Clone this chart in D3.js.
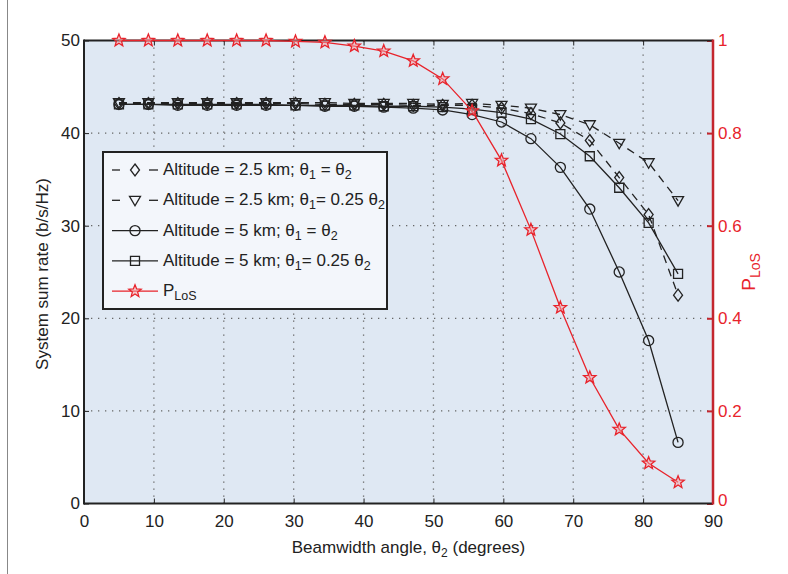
<!DOCTYPE html>
<html><head><meta charset="utf-8">
<script src="https://cdn.jsdelivr.net/npm/d3@7"></script>
<style>
html,body{margin:0;padding:0;background:#fff;}
svg text{font-family:"Liberation Sans",Arial,sans-serif;}
</style></head>
<body>
<svg id="chart" width="788" height="574"></svg>
<script>
// ---- data ----
const beamwidth = [5, 9.21, 13.42, 17.63, 21.84, 26.05, 30.26, 34.47, 38.68, 42.89, 47.11, 51.32, 55.53, 59.74, 63.95, 68.16, 72.37, 76.58, 80.79, 85];
const alt25Equal   = [43.2, 43.2, 43.2, 43.2, 43.2, 43.2, 43.2, 43.1, 43.1, 43.1, 43.0, 43.0, 43.0, 42.7, 42.1, 41.1, 39.2, 35.2, 31.2, 22.5];
const alt25Quarter = [43.3, 43.3, 43.3, 43.3, 43.3, 43.3, 43.3, 43.3, 43.2, 43.2, 43.2, 43.1, 43.2, 43.0, 42.7, 42.0, 40.9, 38.9, 36.8, 32.7];
const alt5Equal    = [43.1, 43.1, 43.0, 43.0, 43.0, 43.0, 43.0, 42.9, 42.9, 42.8, 42.7, 42.5, 42.0, 41.2, 39.4, 36.3, 31.8, 25.0, 17.6, 6.6];
const alt5Quarter  = [43.1, 43.1, 43.1, 43.1, 43.1, 43.1, 43.0, 43.0, 43.0, 42.9, 42.9, 42.8, 42.6, 42.2, 41.5, 39.9, 37.5, 34.1, 30.3, 24.8];
const pLoS         = [1.0, 1.0, 1.0, 1.0, 1.0, 1.0, 0.998, 0.996, 0.988, 0.977, 0.956, 0.917, 0.848, 0.741, 0.591, 0.423, 0.272, 0.160, 0.087, 0.046];
const xTicks = [0, 10, 20, 30, 40, 50, 60, 70, 80, 90];
const yLeftTicks = [0, 10, 20, 30, 40, 50];
const yRightTicks = [0, 0.2, 0.4, 0.6, 0.8, 1];
const rightTickLabels = ["0", "0.2", "0.4", "0.6", "0.8", "1"];

// ---- layout ----
const L = 84, R = 713, T = 40.5, B = 503.5;
const svg = d3.select("#chart");
const x = d3.scaleLinear().domain([0, 90]).range([L, R]);
const yL = d3.scaleLinear().domain([0, 50]).range([B, T]);
const yR = d3.scaleLinear().domain([0, 1]).range([B, T]);
const RED = "#e8232b", DARKRED = "#c4262e", INK = "#222";

// outer frame line on the left
svg.append("line").attr("x1", 7.5).attr("x2", 7.5).attr("y1", 0).attr("y2", 574)
  .attr("stroke", "#888").attr("stroke-width", 1);

// plot background
svg.append("rect").attr("x", L).attr("y", T).attr("width", R - L).attr("height", B - T)
  .attr("fill", "#dfe8f3");

// grid
const grid = svg.append("g").attr("stroke", "#666").attr("stroke-width", 1.3)
  .attr("stroke-dasharray", "1.3,5.7").attr("fill", "none");
xTicks.filter(d => d > 0 && d < 90).forEach(d => {
  grid.append("line").attr("x1", x(d)).attr("x2", x(d)).attr("y1", T).attr("y2", B);
});
yLeftTicks.filter(d => d > 0 && d < 50).forEach(d => {
  grid.append("line").attr("x1", L).attr("x2", R).attr("y1", yL(d)).attr("y2", yL(d));
});

// axes
const fontTick = "17px";
const axB = svg.append("g").attr("transform", `translate(0,${B})`)
  .call(d3.axisBottom(x).tickValues(xTicks).tickSizeInner(-5).tickSizeOuter(0).tickPadding(11).tickFormat(d3.format("d")));
axB.select(".domain").remove();
axB.selectAll("line").attr("stroke", INK);
axB.selectAll("text").attr("font-size", fontTick).attr("fill", "#222")
  .style("font-family", "'Liberation Sans',Arial,sans-serif");

const axTop = svg.append("g").attr("transform", `translate(0,${T})`)
  .call(d3.axisTop(x).tickValues(xTicks).tickSizeInner(-5).tickSizeOuter(0).tickFormat(""));
axTop.select(".domain").remove();
axTop.selectAll("line").attr("stroke", INK);

const axL = svg.append("g").attr("transform", `translate(${L},0)`)
  .call(d3.axisLeft(yL).tickValues(yLeftTicks).tickSizeInner(-5).tickSizeOuter(0).tickPadding(4).tickFormat(d3.format("d")));
axL.select(".domain").remove();
axL.selectAll("line").attr("stroke", INK);
axL.selectAll("text").attr("font-size", fontTick).attr("fill", "#222")
  .style("font-family", "'Liberation Sans',Arial,sans-serif");

const axR = svg.append("g").attr("transform", `translate(${R},0)`)
  .call(d3.axisRight(yR).tickValues(yRightTicks).tickSizeInner(-6).tickSizeOuter(0).tickPadding(5)
    .tickFormat((d, i) => rightTickLabels[i]));
axR.select(".domain").remove();
axR.selectAll("line").attr("stroke", DARKRED).attr("stroke-width", 2);
axR.selectAll("text").attr("font-size", fontTick).attr("fill", RED)
  .style("font-family", "'Liberation Sans',Arial,sans-serif");
// lift the bottom-right "0" slightly so it clears the "90" below it
axR.selectAll(".tick").filter(d => d === 0).select("text").attr("dy", "0.1em");

// frame
svg.append("line").attr("x1", L).attr("x2", R).attr("y1", T).attr("y2", T).attr("stroke", INK).attr("stroke-width", 2);
svg.append("line").attr("x1", L).attr("x2", R).attr("y1", B).attr("y2", B).attr("stroke", INK).attr("stroke-width", 2);
svg.append("line").attr("x1", L).attr("x2", L).attr("y1", T - 1).attr("y2", B + 1).attr("stroke", INK).attr("stroke-width", 2);
svg.append("line").attr("x1", R).attr("x2", R).attr("y1", T - 1).attr("y2", B + 1).attr("stroke", DARKRED).attr("stroke-width", 2.5);

// markers
const star = (r1, r2) => {
  let p = [];
  for (let i = 0; i < 10; i++) {
    const a = -Math.PI / 2 + i * Math.PI / 5;
    const r = i % 2 === 0 ? r1 : r2;
    p.push([r * Math.cos(a), r * Math.sin(a)]);
  }
  return "M" + p.map(q => q.join(",")).join("L") + "Z";
};
const markerPaths = {
  diamond: "M0,-6L4.5,0L0,6L-4.5,0Z",
  triangle: "M-5.5,-4L5.5,-4L0,5.5Z",
  circle: d3.symbol(d3.symbolCircle, 80)(),
  square: "M-4.5,-4.5L4.5,-4.5L4.5,4.5L-4.5,4.5Z",
  star: star(6.5, 2.8)
};

const seriesList = [
  {values: alt25Equal, y: yL, marker: "diamond", color: INK, dash: "8,6"},
  {values: alt25Quarter, y: yL, marker: "triangle", color: INK, dash: "8,6"},
  {values: alt5Equal, y: yL, marker: "circle", color: INK, dash: null},
  {values: alt5Quarter, y: yL, marker: "square", color: INK, dash: null},
  {values: pLoS, y: yR, marker: "star", color: RED, dash: null}
];

const plot = svg.append("g");
seriesList.forEach(s => {
  const line = d3.line().x((d, i) => x(beamwidth[i])).y(d => s.y(d));
  plot.append("path").datum(s.values).attr("d", line).attr("fill", "none")
    .attr("stroke", s.color).attr("stroke-width", 1.3)
    .attr("stroke-dasharray", s.dash);
  plot.selectAll(null).data(s.values).enter().append("path")
    .attr("d", markerPaths[s.marker])
    .attr("transform", (d, i) => `translate(${x(beamwidth[i])},${s.y(d)})`)
    .attr("fill", s.marker === "star" ? "#f6a0a4" : "none")
    .attr("fill-opacity", s.marker === "star" ? 0.5 : 1)
    .attr("stroke", s.color).attr("stroke-width", 1.3);
});

// legend
const lg = svg.append("g");
lg.append("rect").attr("x", 103).attr("y", 152).attr("width", 284).attr("height", 157)
  .attr("fill", "#f3f6fb").attr("stroke", INK).attr("stroke-width", 2);
const legendLabels = [
  [["Altitude = 2.5 km; θ"], ["1", true], [" = θ"], ["2", true]],
  [["Altitude = 2.5 km; θ"], ["1", true], ["= 0.25 θ"], ["2", true]],
  [["Altitude = 5 km; θ"], ["1", true], [" = θ"], ["2", true]],
  [["Altitude = 5 km; θ"], ["1", true], ["= 0.25 θ"], ["2", true]],
  [["P"], ["LoS", true]]
];
seriesList.forEach((s, i) => {
  const cy = 170 + i * 30.3;
  if (s.dash) {
    lg.append("line").attr("x1", 112).attr("x2", 120).attr("y1", cy).attr("y2", cy).attr("stroke", s.color).attr("stroke-width", 1.3);
    lg.append("line").attr("x1", 149).attr("x2", 158).attr("y1", cy).attr("y2", cy).attr("stroke", s.color).attr("stroke-width", 1.3);
  } else {
    lg.append("line").attr("x1", 112).attr("x2", 158).attr("y1", cy).attr("y2", cy).attr("stroke", s.color).attr("stroke-width", 1.3);
  }
  lg.append("path").attr("d", markerPaths[s.marker]).attr("transform", `translate(135,${cy})`)
    .attr("fill", s.marker === "star" ? "#f6a0a4" : "none").attr("fill-opacity", 0.5)
    .attr("stroke", s.color).attr("stroke-width", 1.3);
  const t = lg.append("text").attr("x", 163).attr("y", cy + 5).attr("font-size", "17px").attr("fill", "#222");
  legendLabels[i].forEach(([txt, sub], j) => {
    const ts = t.append("tspan").text(txt);
    if (sub) ts.attr("dy", 4).attr("font-size", "12.5px");
    else if (j > 0) ts.attr("dy", -4);
  });
});

// axis titles
const xt = svg.append("text").attr("x", (L + R) / 2 + 10).attr("y", 553).attr("text-anchor", "middle")
  .attr("font-size", "17px").attr("fill", "#222");
xt.append("tspan").text("Beamwidth angle, θ");
xt.append("tspan").text("2").attr("font-size", "12px").attr("dy", 4);
xt.append("tspan").text(" (degrees)").attr("dy", -4);

svg.append("text").attr("transform", `translate(48,274) rotate(-90)`).attr("text-anchor", "middle")
  .attr("font-size", "17px").attr("fill", "#222").text("System sum rate (b/s/Hz)");

const rt = svg.append("text").attr("transform", `translate(755,272) rotate(-90)`).attr("text-anchor", "middle")
  .attr("font-size", "19px").attr("fill", RED);
rt.append("tspan").text("P");
rt.append("tspan").text("LoS").attr("font-size", "14px").attr("dy", 5);
</script>
</body></html>
